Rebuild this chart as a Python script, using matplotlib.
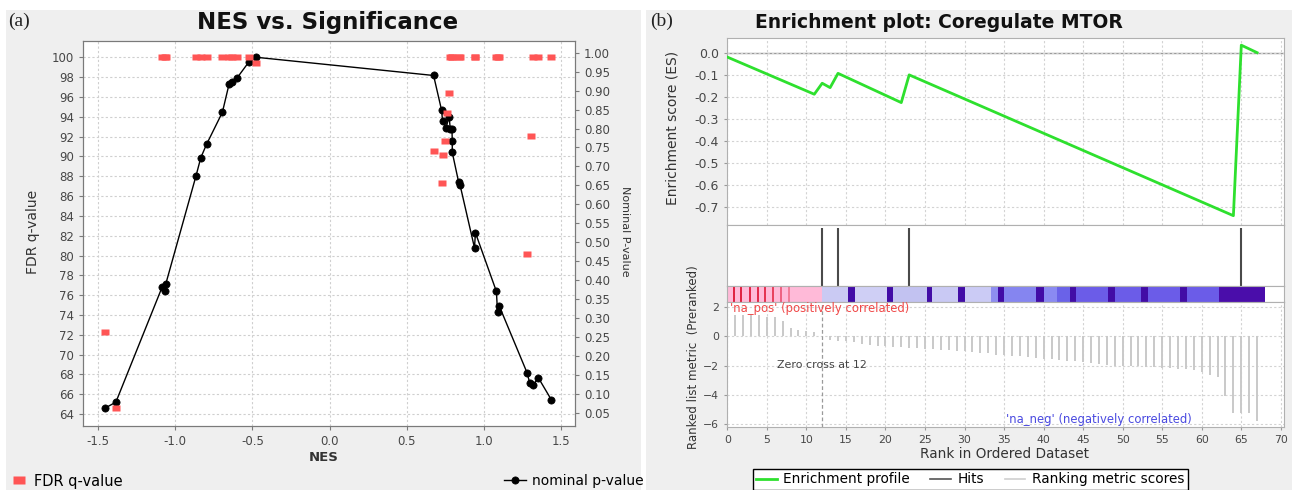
import matplotlib
matplotlib.use("Agg")
import matplotlib.pyplot as plt
from matplotlib.patches import Rectangle
from matplotlib.lines import Line2D

# ---------------- data: panel (a) ----------------
fdr_nes = [-1.455, -1.384, -1.084, -1.067, -1.060, -0.865, -0.834, -0.797, -0.694, -0.651,
           -0.634, -0.600, -0.522, -0.474, 0.674, 0.726, 0.732, 0.750, 0.758, 0.771,
           0.782, 0.793, 0.795, 0.836, 0.846, 0.939, 0.945, 1.081, 1.088, 1.099,
           1.278, 1.303, 1.318, 1.353, 1.437]
fdr_q = [72.3, 64.6, 100, 100, 100, 100, 100, 100, 100, 100,
         100, 100, 100, 99.4, 90.5, 87.3, 90.15, 91.6, 94.35, 96.4,
         100, 100, 100, 100, 100, 100, 100, 100, 100, 100,
         80.2, 92.1, 100, 100, 100]
pval_nes = [-1.455, -1.384, -1.084, -1.067, -1.060, -0.865, -0.834, -0.797, -0.694, -0.651,
            -0.634, -0.600, -0.522, -0.474, 0.674, 0.726, 0.732, 0.754, 0.775, 0.782,
            0.793, 0.795, 0.795, 0.836, 0.846, 0.939, 0.945, 1.081, 1.088, 1.099,
            1.280, 1.297, 1.318, 1.353, 1.437]
pval = [0.062, 0.078, 0.382, 0.372, 0.391, 0.675, 0.723, 0.758, 0.843, 0.917,
        0.923, 0.933, 0.976, 0.988, 0.940, 0.848, 0.820, 0.802, 0.831, 0.798,
        0.799, 0.767, 0.737, 0.659, 0.650, 0.485, 0.525, 0.370, 0.316, 0.332,
        0.155, 0.128, 0.123, 0.142, 0.084]
nes_ticks = [-1.5, -1.0, -0.5, 0.0, 0.5, 1.0, 1.5]
fdr_ticks = list(range(64, 101, 2))
p_ticks = [0.05, 0.10, 0.15, 0.20, 0.25, 0.30, 0.35, 0.40, 0.45, 0.50,
           0.55, 0.60, 0.65, 0.70, 0.75, 0.80, 0.85, 0.90, 0.95, 1.00]

# ---------------- data: panel (b) ----------------
es_rank = [0, 11, 12, 13, 14, 22, 23, 64, 65, 67]
es_score = [-0.02, -0.189, -0.139, -0.159, -0.094, -0.227, -0.101, -0.741, 0.034, 0.0]
hit_rank = [12, 14, 23, 65]
metric_rank = list(range(1, 68))
metric_val = [1.45, 1.45, 1.45, 1.45, 1.35, 1.32, 1.03, 0.57, 0.45, 0.39, 0.33,
              0.0,
              -0.27, -0.29, -0.34, -0.41, -0.50, -0.57, -0.64, -0.68, -0.73, -0.75,
              -0.76, -0.80, -0.87, -0.88, -0.91, -0.96, -0.98,
              -1.00, -1.03, -1.10, -1.10, -1.26, -1.26, -1.37, -1.37, -1.44, -1.48,
              -1.55, -1.55, -1.60, -1.71, -1.71, -1.78, -1.83, -1.87, -1.94, -1.99,
              -1.99, -2.05, -2.05, -2.10, -2.12, -2.17, -2.17, -2.21, -2.24, -2.28,
              -2.44, -2.63, -2.81, -4.11, -5.21, -5.21, -5.25, -5.78]
bar_start = [0, 12, 15.3, 16.1, 20.2, 21.0, 25.2, 25.9, 29.2, 30.1, 33.4, 34.2, 35.0,
             39.1, 40.0, 41.7, 43.3, 44.1, 48.2, 49.0, 52.3, 53.2, 57.3, 58.1, 62.2]
bar_end = [12, 15.3, 16.1, 20.2, 21.0, 25.2, 25.9, 29.2, 30.1, 33.4, 34.2, 35.0, 39.1,
           40.0, 41.7, 43.3, 44.1, 48.2, 49.0, 52.3, 53.2, 57.3, 58.1, 62.2, 68.0]
DK = '#420CA6'
bar_color = ['#FFBAD8', '#CACAF3', DK, '#CFCFF5', DK, '#C2C2F1', DK, '#C9C9F4', DK,
             '#CBCBF5', '#8E8EF0', DK, '#8585F0', DK, '#8A8AF2', '#6A62E8', DK,
             '#6B5CE8', DK, '#6B5CE8', DK, '#6B5CE8', DK, '#6B5CE8', '#4A0DAA']
stripe_rank = [0.8, 1.75, 2.85, 3.9, 4.8, 5.8, 6.8, 7.85]
stripe_color = ['#E0203F', '#E0203F', '#E22545', '#E22848', '#E5304F', '#E8405C',
                '#EE6080', '#F27C98']
rank_ticks = list(range(0, 71, 5))
es_ticks = [0.0, -0.1, -0.2, -0.3, -0.4, -0.5, -0.6, -0.7]
metric_ticks = [2, 0, -2, -4, -6]

# ---------------- figure ----------------
W, H = 1297, 490
fig = plt.figure(figsize=(W / 100, H / 100), dpi=100)
fig.patch.set_facecolor('white')

def fx(x):
    return x / W

def fy(y):
    return 1 - y / H

def axes_px(x0, y0, x1, y1, **kw):
    return fig.add_axes([fx(x0), fy(y1), (x1 - x0) / W, (y1 - y0) / H], **kw)

for (x0, x1) in [(6, 641), (646, 1292)]:
    fig.patches.append(Rectangle((fx(x0), 0), (x1 - x0) / W, fy(10), transform=fig.transFigure,
                                 facecolor='#EFEFEF', edgecolor='none', zorder=-10))

TICKC = '#474747'

# ---------------- panel (a) ----------------
ax = axes_px(83, 41, 575, 426)
ax.set_facecolor('white')
ax2 = ax.twinx()

ax.set_xlim(-1.597, 1.59)
ax.set_ylim(62.8, 101.64)
ax2.set_ylim(0.015, 1.031)
ax.set_xticks(nes_ticks)
ax.set_xticklabels([f"{v:.1f}" for v in nes_ticks])
ax.set_yticks(fdr_ticks)
ax2.set_yticks(p_ticks)
ax2.set_yticklabels([f"{v:.2f}" for v in p_ticks])
ax.grid(True, color='#CFCFCF', linestyle=(0, (2, 2)), linewidth=0.8)
ax.set_axisbelow(True)
for a in (ax, ax2):
    for s in a.spines.values():
        s.set_color('#7A7A7A')
    a.tick_params(colors='#7A7A7A', labelcolor=TICKC, labelsize=8.5, length=3)

sq = [(-1, -0.72), (1, -0.72), (1, 0.72), (-1, 0.72), (-1, -0.72)]
p_line, = ax2.plot(pval_nes, pval, '-', color='black', lw=1.0, marker='o',
                   markersize=5.2, mfc='black', mec='black', mew=0.5, zorder=2)
# FDR squares use the left (FDR) axis scale but are drawn above the p-value line
fdr_line, = ax2.plot(fdr_nes, fdr_q, linestyle='none', marker=sq, markersize=6.3,
                     mfc='#FF5555', mec='none', zorder=3, transform=ax.transData)
ax2.set_ylim(0.015, 1.031)

fig.text(fx(328), fy(23), 'NES vs. Significance', ha='center', va='center',
         fontsize=16.5, fontweight='bold', color='#111111')
fig.text(fx(8), fy(21), '(a)', ha='left', va='center', fontsize=14,
         family=['Liberation Serif', 'DejaVu Serif'], color='#222222')
fig.text(fx(33), fy(232), 'FDR q-value', rotation=90, ha='center', va='center',
         fontsize=10, color='#333333')
fig.text(fx(625), fy(231), 'Nominal P-value', rotation=270, ha='center', va='center',
         fontsize=8, color='#333333')
fig.text(fx(324), fy(457), 'NES', ha='center', va='center', fontsize=9.5,
         fontweight='bold', color='#333333')

sq_key = Line2D([], [], linestyle='none', marker=sq, markersize=8, mfc='#FF5555', mec='none')
fig.legend([sq_key], ['FDR q-value'], loc='center left', bbox_to_anchor=(fx(12), fy(481)),
           frameon=False, fontsize=10.5, handlelength=0.9, handletextpad=0.6,
           borderpad=0, borderaxespad=0)
fig.legend([p_line], ['nominal p-value'], loc='center left', bbox_to_anchor=(fx(504), fy(481)),
           frameon=False, fontsize=10, handlelength=1.6, handletextpad=0.4,
           borderpad=0, borderaxespad=0)

# ---------------- panel (b) ----------------
XL, XR = 727.3, 1284
ax_es = axes_px(XL, 37.7, XR, 224.7)
ax_hit = axes_px(XL, 224.7, XR, 286)
ax_bar = axes_px(XL, 286, XR, 302)
ax_rank = axes_px(XL, 302, XR, 427)
for a in (ax_es, ax_hit, ax_bar, ax_rank):
    a.set_xlim(0, 70.4)
    for s in a.spines.values():
        s.set_color('#B0B0B0')
    a.tick_params(colors='#9A9A9A', labelcolor=TICKC, length=2.5)

GRID = dict(color='#D3D3D3', linestyle=(0, (2, 2)), linewidth=0.8)

ax_es.set_ylim(-0.782, 0.068)
ax_es.set_yticks(es_ticks)
ax_es.set_yticklabels([f"{v:.1f}" for v in es_ticks])
ax_es.set_xticks(rank_ticks)
ax_es.tick_params(axis='x', labelbottom=False, length=0)
ax_es.tick_params(axis='y', labelsize=9)
ax_es.grid(True, **GRID)
ax_es.axhline(0, color='#9A9A9A', lw=1.0, zorder=1)
es_line, = ax_es.plot(es_rank, es_score, color='#2EE02E', lw=2.0, zorder=3)

ax_hit.set_ylim(0, 1)
ax_hit.set_xticks([])
ax_hit.set_yticks([])
hit_lines = ax_hit.vlines(hit_rank, 0, 0.95, color='#4A4A4A', lw=1.5)

ax_bar.set_ylim(0, 1)
ax_bar.set_xticks([])
ax_bar.set_yticks([])
for s0, s1, c in zip(bar_start, bar_end, bar_color):
    ax_bar.axvspan(s0, s1, color=c, lw=0)
ax_bar.vlines(stripe_rank, 0, 1, colors=stripe_color, lw=1.4)

ax_rank.set_ylim(-6.2, 2.36)
ax_rank.set_yticks(metric_ticks)
ax_rank.set_xticks(rank_ticks)
ax_rank.tick_params(labelsize=7.8)
ax_rank.grid(True, **GRID)
metric_lines = ax_rank.vlines(metric_rank, 0, metric_val, color='#C9C9C9', lw=1.4, zorder=2)
ax_rank.axvline(12, color='#9A9A9A', linestyle=(0, (3, 2)), lw=0.9, zorder=3)
ax_rank.text(6.29, -1.95, 'Zero cross at 12', fontsize=7.9, color='#444444', va='center', ha='left')
ax_rank.text(0.35, 1.93, "'na_pos' (positively correlated)", fontsize=8.4, color='#F04848',
             va='center', ha='left')
ax_rank.text(35.2, -5.72, "'na_neg' (negatively correlated)", fontsize=8.4, color='#4A4AE0',
             va='center', ha='left')

fig.text(fx(939), fy(23), 'Enrichment plot: Coregulate MTOR', ha='center', va='center',
         fontsize=13.5, fontweight='bold', color='#111111')
fig.text(fx(650), fy(21), '(b)', ha='left', va='center', fontsize=14,
         family=['Liberation Serif', 'DejaVu Serif'], color='#222222')
fig.text(fx(673), fy(128), 'Enrichment score (ES)', rotation=90, ha='center', va='center',
         fontsize=10, color='#333333')
fig.text(fx(693), fy(357), 'Ranked list metric  (Preranked)', rotation=90, ha='center',
         va='center', fontsize=8.5, color='#333333')
fig.text(fx(1005), fy(454), 'Rank in Ordered Dataset', ha='center', va='center',
         fontsize=9.8, color='#333333')

h_es = Line2D([], [], color='#2EE02E', lw=2)
h_hit = Line2D([], [], color='#555555', lw=1.2)
h_met = Line2D([], [], color='#CFCFCF', lw=1.2)
leg = fig.legend([h_es, h_hit, h_met], ['Enrichment profile', 'Hits', 'Ranking metric scores'],
                 loc='upper left', bbox_to_anchor=(fx(752.7), fy(469)), ncol=3,
                 frameon=True, fancybox=False, edgecolor='black', framealpha=1,
                 fontsize=9.8, handlelength=1.5, handletextpad=0.5, columnspacing=1.5,
                 borderpad=0.25, borderaxespad=0)
leg.get_frame().set_linewidth(1.0)

fig.savefig('out.png', dpi=100, facecolor=fig.get_facecolor())
